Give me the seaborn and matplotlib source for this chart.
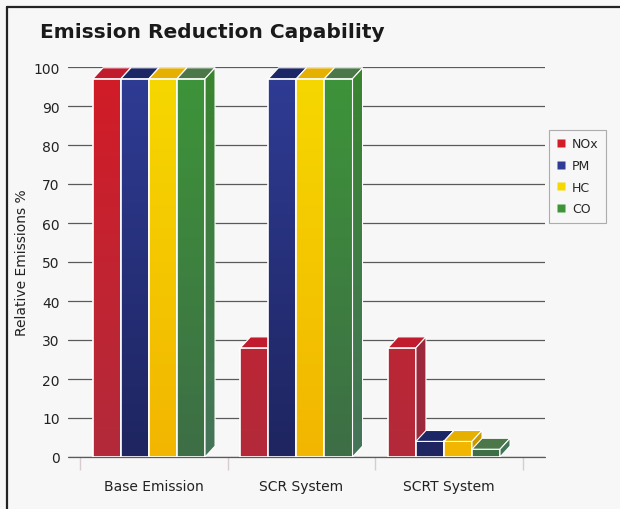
import matplotlib
matplotlib.use("Agg")
import matplotlib.pyplot as plt
from matplotlib.patches import Polygon
from matplotlib.lines import Line2D
from matplotlib.colors import to_rgb
import seaborn as sns
import pandas as pd
import numpy as np

# ---- data ----
systems = ["Base Emission", "SCR System", "SCRT System"]
pollutants = ["NOx", "PM", "HC", "CO"]
nox = [97, 28, 28]
pm = [97, 97, 4]
hc = [97, 97, 4]
co = [97, 97, 2]
yticks = [0, 10, 20, 30, 40, 50, 60, 70, 80, 90, 100]

# ---- style ----
front_colors = {"NOx": "#d21c27", "PM": "#2f3c95", "HC": "#f6d800", "CO": "#3e9539"}
bottom_colors = {"NOx": "#b32a3a", "PM": "#1e2560", "HC": "#f2b600", "CO": "#3d6e46"}
top_colors = {"NOx": "#c01c2e", "PM": "#1c2866", "HC": "#e6b000", "CO": "#4c7749"}
side_colors = {"NOx": "#a3263a", "PM": "#1a2458", "HC": "#c99a00", "CO": "#3a8530"}
side_bottom = {"NOx": "#9a2a3c", "PM": "#1a2458", "HC": "#c99a00", "CO": "#46755a"}
BG = "#f7f7f7"
DX = 0.068   # depth offset, x data units
DY = 2.8     # depth offset, y data units

sns.set_theme(style="white")
plt.rcParams["font.family"] = ["DejaVu Sans"]

df = pd.DataFrame({
    "System": systems * 4,
    "Pollutant": [p for p in pollutants for _ in systems],
    "Value": nox + pm + hc + co,
})

fig = plt.figure(figsize=(6.2, 5.1), dpi=100, facecolor=BG)
ax = fig.add_axes([68 / 620, 52 / 510, 477 / 620, 390 / 510])
ax.set_facecolor(BG)

sns.barplot(data=df, x="System", y="Value", hue="Pollutant", order=systems,
            hue_order=pollutants, palette=front_colors, width=0.76, dodge=True,
            saturation=1, edgecolor="white", linewidth=1.2, legend=False, ax=ax)

bars = list(ax.patches)
n = len(systems)
info = []
for i, p in enumerate(bars):
    info.append((p.get_x(), p, pollutants[i // n]))
info.sort(key=lambda t: t[0])


def gradient(pol, h, top_map, bot_map):
    c0 = np.array(to_rgb(bot_map[pol]))
    c1 = np.array(to_rgb(top_map[pol]))
    t = np.linspace(0, max(h, 0.01) / 100.0, 64)[:, None]
    return (c0 + (c1 - c0) * t)[:, None, :]


for k, (_, p, pol) in enumerate(info):
    p.set_x(p.get_x() - DX / 2)
    z = 3 + k * 0.01
    x0 = p.get_x()
    w = p.get_width()
    h = p.get_height()
    x1 = x0 + w
    p.set_facecolor("none")
    p.set_zorder(z + 0.0008)
    img = ax.imshow(gradient(pol, h, front_colors, bottom_colors),
                    extent=(x0, x1, 0, h), origin="lower", aspect="auto",
                    interpolation="bilinear", zorder=z + 0.0005)
    img.set_clip_path(p)
    top = Polygon([(x0, h), (x1, h), (x1 + DX, h + DY), (x0 + DX, h + DY)],
                  closed=True, facecolor=top_colors[pol], edgecolor="white",
                  linewidth=0.8, zorder=z + 0.001)
    side = Polygon([(x1, 0), (x1 + DX, DY), (x1 + DX, h + DY), (x1, h)],
                   closed=True, facecolor="none", edgecolor="white",
                   linewidth=0.8, zorder=z + 0.003)
    ax.add_patch(top)
    ax.add_patch(side)
    simg = ax.imshow(gradient(pol, h + DY, side_colors, side_bottom),
                     extent=(x1, x1 + DX, 0, h + DY), origin="lower",
                     aspect="auto", interpolation="bilinear", zorder=z + 0.002)
    simg.set_clip_path(side)

ax.set_xlim(-0.583, 2.651)
ax.set_ylim(0, 100)
ax.set_aspect("auto")
ax.set_yticks(yticks)
ax.set_yticklabels([str(t) for t in yticks])
ax.yaxis.grid(True, color="#5a5a5a", linewidth=0.9)
ax.xaxis.grid(False)
ax.set_axisbelow(True)
ax.axhline(0, color="#5a5a5a", linewidth=0.9, zorder=1, clip_on=False)
for s in ax.spines.values():
    s.set_visible(False)
ax.set_xlabel("")
ax.set_ylabel("")
ax.tick_params(axis="y", length=0, pad=6, labelsize=10, labelcolor="#222222")
ax.tick_params(axis="x", which="major", length=0, pad=16, labelsize=10,
               labelcolor="#222222")
ax.set_xticks([-0.5, 0.5, 1.5, 2.5], minor=True)
ax.tick_params(axis="x", which="minor", length=9, width=1.0, color="#d8cbd3",
               direction="out", bottom=True)

# legend
handles = [Line2D([0], [0], marker="s", linestyle="", markersize=6.2,
                  markerfacecolor=front_colors[p], markeredgecolor="none",
                  label=p) for p in pollutants]
leg = fig.legend(handles=handles, loc="upper left",
                 bbox_to_anchor=(549 / 620, 1 - 131 / 510), frameon=True,
                 fontsize=9, handlelength=0.7, handletextpad=0.55,
                 labelspacing=0.68, borderpad=0.6, borderaxespad=0,
                 fancybox=False)
leg.get_frame().set_edgecolor("#9a9a9a")
leg.get_frame().set_facecolor(BG)
leg.get_frame().set_linewidth(0.8)

# title & y label
fig.text(40 / 620, 1 - 33 / 510, "Emission Reduction Capability", ha="left",
         va="center", fontsize=14.5, fontweight="bold", color="#1a1a1a")
fig.text(22 / 620, 1 - 263 / 510, "Relative Emissions %", rotation=90,
         ha="center", va="center", fontsize=10, color="#222222")

# outer frame (left and top)
fig.add_artist(Line2D([7 / 620, 7 / 620], [0, 1 - 8 / 510], transform=fig.transFigure,
                      color="#222222", linewidth=1.6))
fig.add_artist(Line2D([7 / 620, 1], [1 - 8 / 510, 1 - 8 / 510], transform=fig.transFigure,
                      color="#222222", linewidth=1.6))

fig.savefig("out.png", dpi=100, facecolor=BG)
